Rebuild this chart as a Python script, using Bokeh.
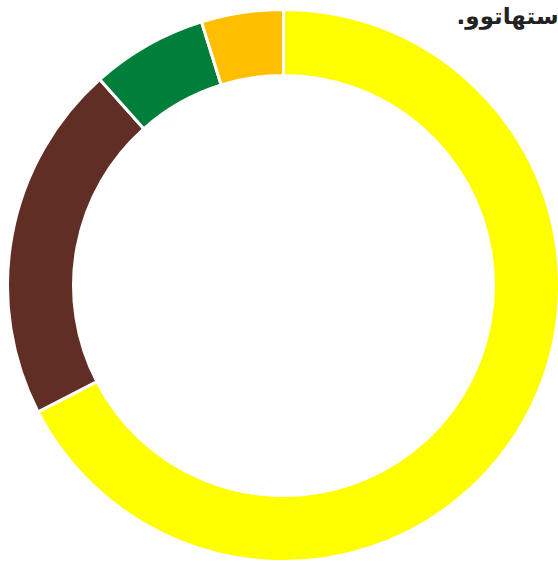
from bokeh.plotting import figure
from bokeh.models import ColumnDataSource, Range1d
from bokeh.core.properties import value
from bokeh.embed import file_html
from bokeh.resources import INLINE
import math

categories = ["A", "B", "C", "D"]
values = [67.5, 21.0, 6.8, 4.8]
colors = ["#FFFF00", "#612E26", "#007E3A", "#FFBF00"]
title_text = ".ستهاتوو"

W, H = 558, 561
total = sum(values)
starts, ends = [], []
cum = 0.0
for v in values:
    starts.append(math.pi / 2 - 2 * math.pi * cum / total)
    cum += v
    ends.append(math.pi / 2 - 2 * math.pi * cum / total)

src = ColumnDataSource(dict(cat=categories, val=values, start=starts, end=ends, color=colors))

p = figure(width=W, height=H, output_backend="svg", toolbar_location=None,
           x_range=Range1d(0, W), y_range=Range1d(0, H), min_border=0)
p.axis.visible = False
p.grid.visible = False
p.outline_line_color = None
p.background_fill_color = "white"

cx, cy = 283, H - 285
p.annular_wedge(x=cx, y=cy, inner_radius=210, outer_radius=276,
                start_angle="start", end_angle="end", direction="clock",
                fill_color="color", line_color="white", line_width=3, source=src)

p.text(x=[W], y=[H - 15], text=[title_text], text_align="right", text_baseline="alphabetic",
       text_font=value("DejaVu Sans"), text_font_style="bold", text_font_size="23px",
       text_color="#222222")

open("out.html", "w").write(file_html(p, INLINE))
